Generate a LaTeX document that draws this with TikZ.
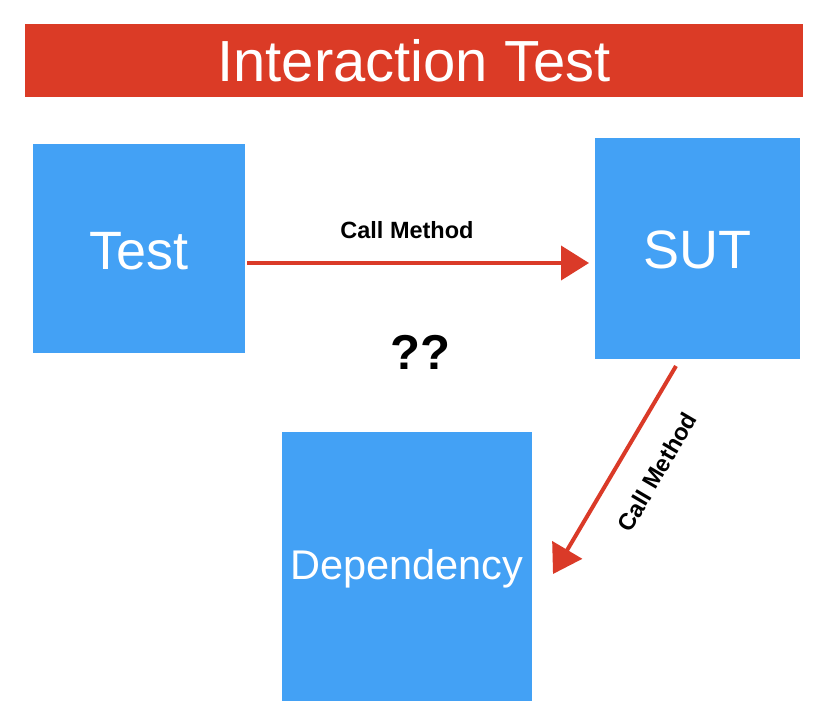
\documentclass[tikz,border=0pt]{standalone}
\usepackage{fontspec}
\setmainfont{Liberation Sans}
\usetikzlibrary{arrows.meta}
\definecolor{boxblue}{RGB}{67,161,245}
\definecolor{titlered}{RGB}{219,59,38}
\definecolor{arrowred}{RGB}{218,58,40}
\tikzset{
  box/.style={fill=boxblue, draw=none, inner sep=0pt, text=white},
  boxtext/.style={text=white, inner sep=0pt},
  arrowline/.style={draw=arrowred, line width=4pt, -{Triangle[length=28pt,width=34pt]}},
  lbl/.style={font=\bfseries\fontsize{23.5}{28}\selectfont, inner sep=0pt},
}
\begin{document}
\begin{tikzpicture}[x=1pt,y=1pt]
\useasboundingbox (0,0) rectangle (824,-721);
% title
\node[fill=titlered, inner sep=0pt, minimum width=778pt, minimum height=73pt,
  text=white, font=\fontsize{58}{62}\selectfont] (title) at (414,-60.5) {Interaction Test};
% boxes
\node[box, minimum width=212pt, minimum height=209pt] (test) at (139,-248.5) {};
\node[boxtext, font=\fontsize{54}{58}\selectfont] (testtext) at (139,-251) {Test};
\node[box, minimum width=205pt, minimum height=221pt] (sut) at (697.5,-248.5) {};
\node[boxtext, font=\fontsize{54}{58}\selectfont] (suttext) at (697.5,-250) {SUT};
\node[box, minimum width=250pt, minimum height=269pt] (dep) at (407,-566.5) {};
\node[boxtext, font=\fontsize{41.5}{46}\selectfont] (deptext) at (407,-569) {Dependency};
% connector end points
\coordinate (a1s) at (247,-263);
\coordinate (a1e) at (589,-263);
\coordinate (a2s) at (676,-366);
\coordinate (a2e) at (553,-574);
% arrows
\draw[arrowline] (a1s) -- (a1e);
\draw[arrowline] (a2s) -- (a2e);
% labels
\node[lbl] (l1) at (407,-230) {Call Method};
\node[lbl, rotate=59.6] (l2) at (657,-472) {Call Method};
\node[font=\bfseries\fontsize{49}{54}\selectfont, inner sep=0pt] (qq) at (420,-352) {??};
\end{tikzpicture}
\end{document}
